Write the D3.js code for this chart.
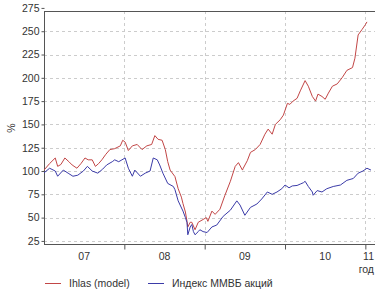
<!DOCTYPE html>
<html>
<head>
<meta charset="utf-8">
<script src="https://cdn.jsdelivr.net/npm/d3@7"></script>
<style>
  body { margin: 0; background: #fff; }
  svg text { font-family: "Liberation Sans", Arial, sans-serif; fill: #333; }
</style>
</head>
<body>
<svg id="chart" width="375" height="289"></svg>
<script>
// values, x in decimal years
const ihlasYears = [2007.00, 2007.07, 2007.14, 2007.17, 2007.21, 2007.26, 2007.31, 2007.35, 2007.41, 2007.46,
  2007.51, 2007.55, 2007.60, 2007.64, 2007.68, 2007.72, 2007.77, 2007.82, 2007.88, 2007.95,
  2007.98, 2008.01, 2008.05, 2008.10, 2008.16, 2008.22, 2008.28, 2008.34, 2008.38, 2008.42,
  2008.47, 2008.51, 2008.54, 2008.57, 2008.63, 2008.67, 2008.71, 2008.73, 2008.76, 2008.78,
  2008.79, 2008.82, 2008.84, 2008.88, 2008.92, 2008.98, 2009.02, 2009.04, 2009.09, 2009.13,
  2009.19, 2009.25, 2009.32, 2009.38, 2009.42, 2009.47, 2009.48, 2009.53, 2009.57, 2009.63,
  2009.69, 2009.75, 2009.79, 2009.84, 2009.88, 2009.94, 2009.98, 2010.03, 2010.06, 2010.10,
  2010.15, 2010.19, 2010.25, 2010.29, 2010.34, 2010.38, 2010.41, 2010.46, 2010.50, 2010.54,
  2010.59, 2010.65, 2010.71, 2010.77, 2010.84, 2010.87, 2010.91, 2010.96, 2011.00, 2011.02];
const ihlasValues = [101, 108, 114, 105, 107, 114, 110, 106.5, 103, 108,
  114, 112, 112, 105, 108, 112, 118, 123, 124, 127,
  133, 131, 122, 127, 128.5, 123, 127, 128.5, 138, 134,
  133, 123, 110, 101, 94, 81, 72, 65, 56, 46,
  40, 45, 45, 37, 45, 48, 50, 46, 57, 53.5,
  59, 73.5, 89, 105, 109, 101, 103, 111, 120, 123,
  128.5, 139.5, 145, 139.5, 150, 155, 160, 172.6, 171.5, 175,
  178, 186, 197, 191, 180, 175, 182.5, 180, 177, 183.6,
  191, 193.5, 200, 208, 211, 221, 246, 252, 257, 260];

const micexYears = [2007.00, 2007.07, 2007.14, 2007.17, 2007.24, 2007.30, 2007.36, 2007.42, 2007.49, 2007.54,
  2007.60, 2007.67, 2007.73, 2007.78, 2007.85, 2007.88, 2007.93, 2007.97, 2008.01, 2008.05,
  2008.10, 2008.13, 2008.20, 2008.26, 2008.32, 2008.36, 2008.41, 2008.44, 2008.48, 2008.54,
  2008.61, 2008.63, 2008.67, 2008.73, 2008.76, 2008.78, 2008.79, 2008.82, 2008.84, 2008.86,
  2008.88, 2008.92, 2008.94, 2008.98, 2009.03, 2009.09, 2009.15, 2009.23, 2009.32, 2009.40,
  2009.44, 2009.50, 2009.57, 2009.65, 2009.71, 2009.78, 2009.84, 2009.90, 2009.96, 2010.00,
  2010.05, 2010.09, 2010.15, 2010.19, 2010.23, 2010.25, 2010.29, 2010.34, 2010.35, 2010.40,
  2010.46, 2010.52, 2010.60, 2010.69, 2010.77, 2010.85, 2010.91, 2010.97, 2011.02, 2011.07];
const micexValues = [98, 103, 100, 94.4, 101, 97.7, 94.4, 95.5, 100, 105,
  100, 97.7, 102, 106.5, 110, 112, 110, 112, 114, 103,
  94.4, 101, 94.4, 97.7, 100, 114, 112, 106.5, 97.7, 86.7,
  83.4, 80, 68, 57, 50, 44.8, 31.6, 40, 42.6, 35,
  31.6, 35, 37, 35, 34, 40, 42, 51.4, 58, 68,
  63.5, 52.5, 61, 64.6, 70, 77.5, 75, 77.5, 81, 85,
  82, 84, 84.5, 86, 87.5, 89, 83.4, 77.5, 74, 79,
  77.5, 81, 83.4, 85, 90, 92, 97.7, 100, 103, 101];

const yTicks = [25, 50, 75, 100, 125, 150, 175, 200, 225, 250, 275];
const yearTicks = [2008, 2009, 2010, 2011];
const yearLabels = ["07", "08", "09", "10", "11"];
const seriesNames = ["Ihlas (model)", "Индекс ММВБ акций"];
const seriesColors = ["#c24646", "#3b3ba8"];

const svg = d3.select("#chart");
const mLeft = 44, mTop = 11, mBottom = 244, mRight = 375;

const x = d3.scaleLinear().domain([2007, 2011.12]).range([mLeft, mRight]);
const y = d3.scaleLinear()
  .domain([275 - (14 - mTop) * 250 / 227, 25 - (mBottom - 241) * 250 / 227])
  .range([mTop, mBottom]);

// gridlines
svg.append("g").selectAll("line").data(yTicks.slice(0, -1)).enter().append("line")
  .attr("x1", mLeft).attr("x2", mRight)
  .attr("y1", d => Math.round(y(d)) + 0.5).attr("y2", d => Math.round(y(d)) + 0.5)
  .attr("stroke", "#cccccc").attr("stroke-dasharray", "3,3");
svg.append("g").selectAll("line").data(yearTicks).enter().append("line")
  .attr("x1", d => Math.round(x(d)) + 0.5).attr("x2", d => Math.round(x(d)) + 0.5)
  .attr("y1", mTop).attr("y2", mBottom)
  .attr("stroke", "#cccccc").attr("stroke-dasharray", "3,3");

// y axis
const yAxis = d3.axisLeft(y).tickValues(yTicks).tickSize(3).tickPadding(2);
const gy = svg.append("g").attr("transform", `translate(${mLeft + 0.5},0)`).call(yAxis);
gy.select(".domain").attr("stroke", "#555").attr("d", `M0,${mTop}V${mBottom}`);
gy.selectAll(".tick line").attr("stroke", "#555");
gy.selectAll(".tick text").attr("font-size", "10.5px").attr("fill", "#333")
  .attr("font-family", "Liberation Sans, Arial, sans-serif");

// x axis with year boundary ticks
const xAxis = d3.axisBottom(x).tickValues(yearTicks).tickSize(5).tickFormat("");
const gx = svg.append("g").attr("transform", `translate(0,${mBottom + 0.5})`).call(xAxis);
gx.select(".domain").attr("stroke", "#555").attr("d", `M${mLeft},0H${mRight}`);
gx.selectAll(".tick line").attr("stroke", "#555");

// top border
svg.append("line").attr("x1", mLeft).attr("x2", mRight).attr("y1", mTop + 0.5).attr("y2", mTop + 0.5)
  .attr("stroke", "#555");

// year labels centred in each year, the last one squeezed at the edge
svg.append("g").selectAll("text").data(yearLabels).enter().append("text")
  .attr("x", (d, i) => i < 4 ? x(2007.5 + i) : mRight - 1)
  .attr("y", 260)
  .attr("text-anchor", (d, i) => i < 4 ? "middle" : "end")
  .attr("font-size", "10.5px")
  .text(d => d);
svg.append("text").attr("x", mRight - 1).attr("y", 273).attr("text-anchor", "end")
  .attr("font-size", "10.5px").text("год");

// % label
svg.append("text").attr("transform", "translate(15,128) rotate(-90)")
  .attr("text-anchor", "middle").attr("font-size", "10.5px").text("%");

// lines
const line = d3.line().x(d => x(d[0])).y(d => y(d[1]));
const series = [
  d3.zip(ihlasYears, ihlasValues),
  d3.zip(micexYears, micexValues)
];
svg.append("g").selectAll("path").data(series).enter().append("path")
  .attr("d", line)
  .attr("fill", "none")
  .attr("stroke", (d, i) => seriesColors[i])
  .attr("stroke-width", 1);

// legend
const legendX = [45, 148];
const lg = svg.append("g").selectAll("g").data(seriesNames).enter().append("g")
  .attr("transform", (d, i) => `translate(${legendX[i]},283)`);
lg.append("line").attr("x1", 0).attr("x2", 16).attr("y1", 0.5).attr("y2", 0.5)
  .attr("stroke", (d, i) => seriesColors[i]);
lg.append("text").attr("x", 24).attr("y", 3.5).attr("font-size", "10.5px").text(d => d);
</script>
</body>
</html>
